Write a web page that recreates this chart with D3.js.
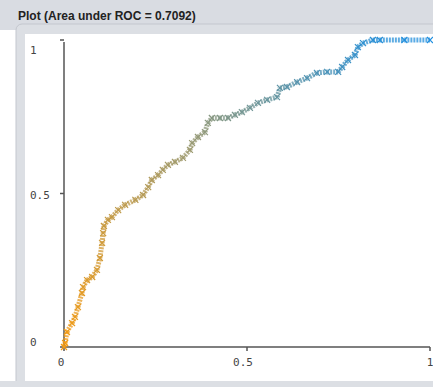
<!DOCTYPE html>
<html><head><meta charset="utf-8">
<script src="https://cdn.jsdelivr.net/npm/d3@7"></script>
<style>html,body{margin:0;padding:0;background:#fff;overflow:hidden}</style>
</head><body>
<script>
const title = "Plot (Area under ROC = 0.7092)";
const fpr = [0,0.003,0.008,0.022,0.030,0.038,0.049,0.052,0.063,0.077,0.090,0.098,0.104,0.107,0.109,0.120,0.131,0.148,0.167,0.195,0.216,0.230,0.240,0.257,0.270,0.284,0.303,0.325,0.344,0.350,0.366,0.385,0.393,0.404,0.426,0.448,0.467,0.486,0.508,0.530,0.555,0.582,0.590,0.609,0.637,0.664,0.691,0.719,0.749,0.760,0.776,0.795,0.803,0.817,0.844,0.863,0.93,1];
const tpr = [0,0.013,0.049,0.078,0.098,0.130,0.176,0.195,0.218,0.228,0.251,0.290,0.339,0.371,0.394,0.414,0.423,0.446,0.463,0.479,0.495,0.521,0.544,0.560,0.577,0.593,0.603,0.616,0.642,0.664,0.684,0.700,0.730,0.746,0.746,0.746,0.756,0.765,0.779,0.795,0.805,0.814,0.844,0.847,0.863,0.876,0.893,0.896,0.896,0.912,0.935,0.951,0.977,0.990,1,1,1,1];
const xTicks = [0,0.5,1];
const yTicks = [0,0.5,1];
const xTickLabels = ["0","0.5","1"];
const yTickLabels = ["0","0.5","1"];

const W=433,H=387;
const svg=d3.select("body").append("svg").attr("width",W).attr("height",H);
// frame
svg.append("rect").attr("x",0).attr("y",0).attr("width",W).attr("height",H).attr("fill","#fff");
svg.append("rect").attr("x",0).attr("y",0).attr("width",W).attr("height",30).attr("fill","#d9dce2");
svg.append("rect").attr("x",16).attr("y",24).attr("width",W).attr("height",H).attr("rx",6)
  .attr("fill","#dcdfe4").attr("stroke","#c3c7ce");
svg.append("rect").attr("x",25).attr("y",34).attr("width",W).attr("height",347).attr("fill","#fff");
svg.append("rect").attr("x",0).attr("y",381).attr("width",W).attr("height",6).attr("fill","#dcdfe4");
svg.append("text").attr("x",18).attr("y",20).text(title)
  .attr("font-family","Liberation Sans, Arial, sans-serif").attr("font-weight","bold")
  .attr("font-size",12).attr("fill","#222");

const x=d3.scaleLinear().domain([0,1]).range([64,430]);
const y=d3.scaleLinear().domain([0,1]).range([347,40]);

// axes
const g=svg.append("g").attr("stroke","#555").attr("stroke-width",1.5);
g.append("line").attr("x1",x(0)).attr("x2",x(1)).attr("y1",y(0)).attr("y2",y(0));
g.append("line").attr("x1",x(0)).attr("x2",x(0)).attr("y1",y(0)).attr("y2",42);
xTicks.forEach(t=>g.append("line").attr("x1",x(t)).attr("x2",x(t)).attr("y1",y(0)).attr("y2",y(0)+4));
yTicks.forEach(t=>g.append("line").attr("x1",x(0)).attr("x2",x(0)-4).attr("y1",y(t)).attr("y2",y(t)));

const tf="DejaVu Sans Mono, monospace";
xTicks.forEach((t,i)=>svg.append("text").attr("x",x(t)-(i==0?3:(i==1?4:0))).attr("y",366)
  .attr("text-anchor","middle").text(xTickLabels[i])
  .attr("font-family",tf).attr("font-size",11).attr("fill","#444"));
const yLabY={0:346,0.5:199,1:54};
yTicks.forEach((t,i)=>svg.append("text").attr("x",30).attr("y",yLabY[t])
  .text(yTickLabels[i]).attr("font-family",tf).attr("font-size",11).attr("fill","#444"));

// curve
const col=d3.scaleLinear().domain([0,0.5,1]).range(["#f59a10","#9a9a72","#1f8fe0"]).interpolate(d3.interpolateRgb);
const pts=fpr.map((f,i)=>({f,t:tpr[i],c:col(i/(fpr.length-1))}));
const cg=svg.append("g");
for(let i=0;i<pts.length-1;i++){
  cg.append("line").attr("x1",x(pts[i].f)).attr("y1",y(pts[i].t))
    .attr("x2",x(pts[i+1].f)).attr("y2",y(pts[i+1].t))
    .attr("stroke",pts[i].c).attr("stroke-width",5).attr("stroke-opacity",0.75)
    .attr("stroke-dasharray","2,1").attr("stroke-linecap","butt");
}
pts.forEach(p=>{
  const cx=x(p.f),cy=y(p.t),s=3;
  cg.append("path").attr("d",`M${cx-s},${cy-s}L${cx+s},${cy+s}M${cx-s},${cy+s}L${cx+s},${cy-s}`)
    .attr("stroke",p.c).attr("stroke-width",1.2).attr("fill","none");
});
</script>
</body></html>
